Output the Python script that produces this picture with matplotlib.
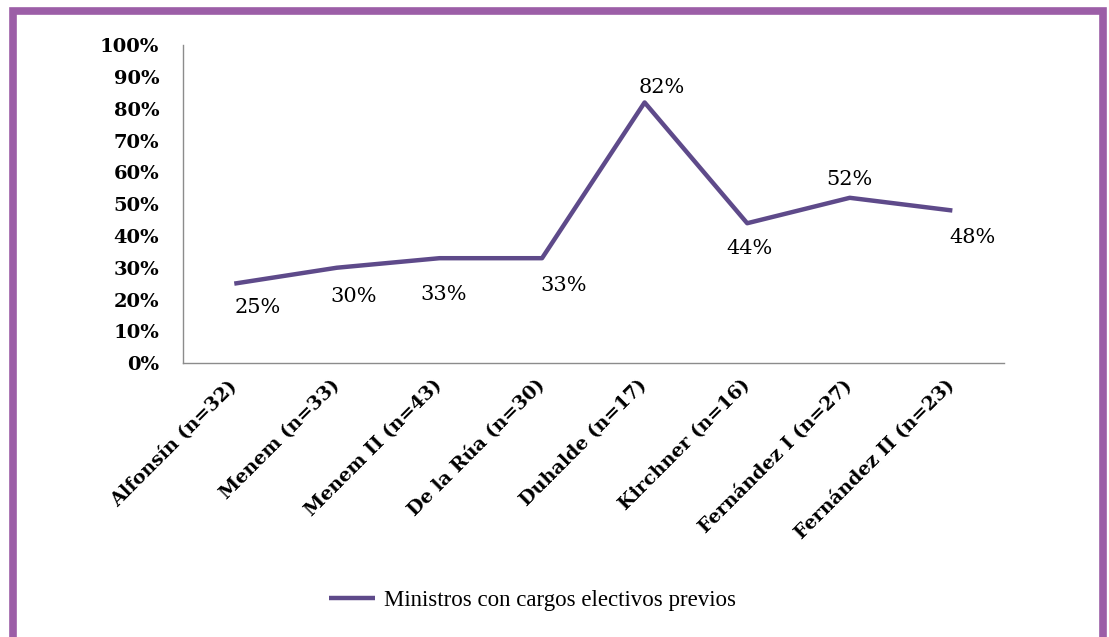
import matplotlib
matplotlib.use("Agg")
import matplotlib.pyplot as plt
from matplotlib.patches import Rectangle
from matplotlib.ticker import PercentFormatter

# datos
gobiernos = ["Alfonsín (n=32)", "Menem (n=33)", "Menem II (n=43)", "De la Rúa (n=30)",
             "Duhalde (n=17)", "Kirchner (n=16)", "Fernández I (n=27)", "Fernández II (n=23)"]
pct_cargos = [25, 30, 33, 33, 82, 44, 52, 48]
serie = "Ministros con cargos electivos previos"

# desplazamiento de etiquetas (px)
label_off = [(23, -24), (17, -29), (4, -36), (22, -27), (17, 15), (2, -25), (0, 18), (20, -27)]

LINE = "#5e4a8a"
FRAME = "#9c5ea7"
SERIF = ["DejaVu Serif"]
plt.rcParams["font.family"] = ["Liberation Serif", "DejaVu Serif"]

fig = plt.figure(figsize=(11.09, 6.37), dpi=100)
fig.patches.append(Rectangle((0.012, -0.05), 0.983, 1.033, transform=fig.transFigure,
                             fill=False, edgecolor=FRAME, linewidth=5.5))
ax = fig.add_axes([0.165, 0.430, 0.740, 0.499])

x = list(range(len(gobiernos)))
ax.plot(x, pct_cargos, color=LINE, linewidth=3.2, solid_capstyle="butt", label=serie)
for xi, v, (dx, dy) in zip(x, pct_cargos, label_off):
    ax.annotate(f"{v}%", xy=(xi, v), xytext=(dx * 0.72, dy * 0.72), textcoords="offset points",
                ha="center", va="center", fontsize=15, family=SERIF)

ax.set_xlim(-0.5, len(gobiernos) - 0.5)
ax.set_ylim(0, 100)
ax.set_yticks(range(0, 101, 10))
ax.yaxis.set_major_formatter(PercentFormatter(decimals=0))
ax.set_xticks(x)
ax.set_xticklabels(gobiernos, rotation=45, ha="right", va="center", rotation_mode="anchor",
                   fontsize=13.8, fontweight="bold", family=SERIF)
ax.tick_params(axis="x", length=0, pad=14)
ax.tick_params(axis="y", length=0, pad=17)
for t in ax.get_yticklabels():
    t.set_fontweight("bold")
    t.set_family(SERIF)
    t.set_fontsize(14)
for s in ["top", "right"]:
    ax.spines[s].set_visible(False)
for s in ["left", "bottom"]:
    ax.spines[s].set_color("#8c8c8c")
    ax.spines[s].set_linewidth(1)

fig.legend(loc="center", bbox_to_anchor=(0.48, 0.058), frameon=False, fontsize=16.5,
           handlelength=2.0, handletextpad=0.4)
fig.savefig("out.png", dpi=100)
